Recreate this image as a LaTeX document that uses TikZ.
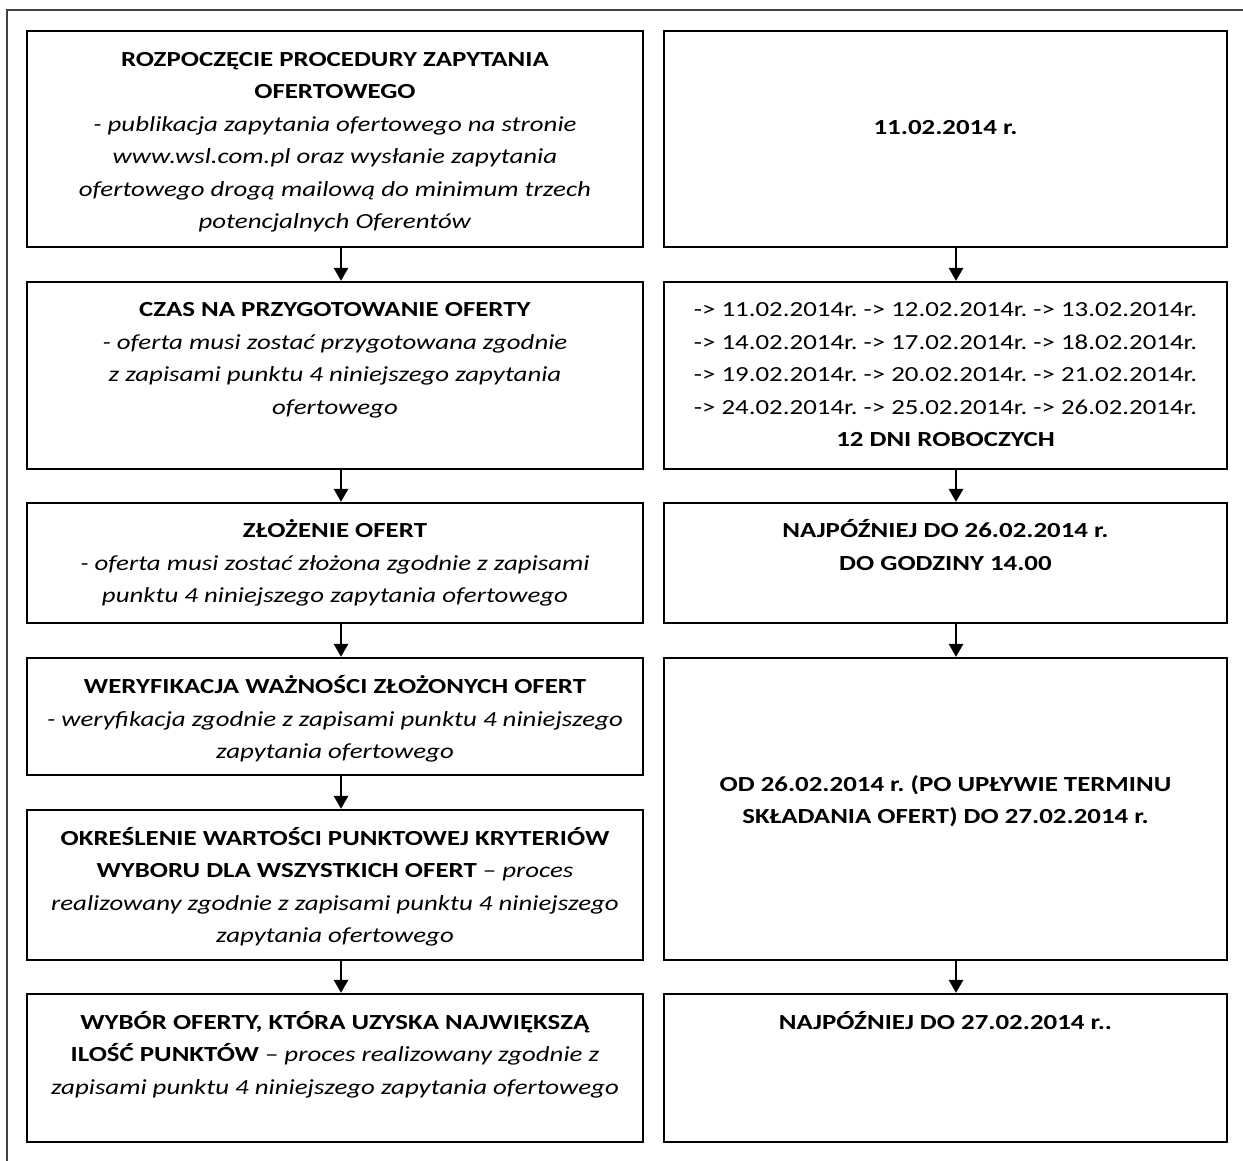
\documentclass[tikz,border=0pt]{standalone}
\usepackage{fontspec}
\setmainfont{Carlito}[FakeStretch=1.25]
\usetikzlibrary{arrows.meta}
\newcommand\firstl{\rule{0pt}{25pt}}
\begin{document}
\frenchspacing
\begin{tikzpicture}[x=1pt,y=-1pt,
  box/.style={draw=black,line width=2.2pt,rectangle,inner sep=0pt},
  txt/.style={anchor=north,inner sep=0pt,align=center,font=\fontsize{21.5}{32.5}\selectfont},
  arr/.style={line width=2.6pt,-{Triangle[width=14pt,length=13pt]}},
  frame/.style={draw=black!75,line width=1.5pt}]
\useasboundingbox (0,0) rectangle (1243,1160);
\draw[frame] (7,1165) -- (7,10) -- (1248,10);
% left boxes
\node[box,minimum width=616pt,minimum height=216pt] (b1) at (335,139) {};
\node[box,minimum width=616pt,minimum height=187pt] (b2) at (335,375.5) {};
\node[box,minimum width=616pt,minimum height=120pt] (b3) at (335,563) {};
\node[box,minimum width=616pt,minimum height=117pt] (b4) at (335,716.5) {};
\node[box,minimum width=616pt,minimum height=150pt] (b5) at (335,885) {};
\node[box,minimum width=616pt,minimum height=148pt] (b6) at (335,1068) {};
% right boxes
\node[box,minimum width=563pt,minimum height=216pt] (r1) at (945.5,139) {};
\node[box,minimum width=563pt,minimum height=187pt] (r2) at (945.5,375.5) {};
\node[box,minimum width=563pt,minimum height=120pt] (r3) at (945.5,563) {};
\node[box,minimum width=563pt,minimum height=302pt] (r4) at (945.5,809) {};
\node[box,minimum width=563pt,minimum height=148pt] (r5) at (945.5,1068) {};
% left texts
\node[txt] (t1) at (335,41) {\firstl\textbf{ROZPOCZĘCIE PROCEDURY ZAPYTANIA}\\\textbf{OFERTOWEGO}\\\textit{- publikacja zapytania ofertowego na stronie}\\\textit{www.wsl.com.pl oraz wysłanie zapytania}\\\textit{ofertowego drogą mailową do minimum trzech}\\\textit{potencjalnych Oferentów}};
\node[txt] (t2) at (335,291.5) {\firstl\textbf{CZAS NA PRZYGOTOWANIE OFERTY}\\\textit{- oferta musi zostać przygotowana zgodnie}\\\textit{z zapisami punktu 4 niniejszego zapytania}\\\textit{ofertowego}};
\node[txt] (t3) at (335,512.5) {\firstl\textbf{ZŁOŻENIE OFERT}\\\textit{- oferta musi zostać złożona zgodnie z zapisami}\\\textit{punktu 4 niniejszego zapytania ofertowego}};
\node[txt] (t4) at (335,668.5) {\firstl\textbf{WERYFIKACJA WAŻNOŚCI ZŁOŻONYCH OFERT}\\\textit{- weryfikacja zgodnie z zapisami punktu 4 niniejszego}\\\textit{zapytania ofertowego}};
\node[txt] (t5) at (335,820) {\firstl\textbf{OKREŚLENIE WARTOŚCI PUNKTOWEJ KRYTERIÓW}\\\textbf{WYBORU DLA WSZYSTKICH OFERT} – \textit{proces}\\\textit{realizowany zgodnie z zapisami punktu 4 niniejszego}\\\textit{zapytania ofertowego}};
\node[txt] (t6) at (335,1004) {\firstl\textbf{WYBÓR OFERTY, KTÓRA UZYSKA NAJWIĘKSZĄ}\\\textbf{ILOŚĆ PUNKTÓW} – \textit{proces realizowany zgodnie z}\\\textit{zapisami punktu 4 niniejszego zapytania ofertowego}};
% right texts
\node[txt] (s1) at (945.5,109) {\firstl\textbf{11.02.2014 r.}};
\node[txt] (s2) at (945.5,291.5) {\firstl-> 11.02.2014r. -> 12.02.2014r. -> 13.02.2014r.\\-> 14.02.2014r. -> 17.02.2014r. -> 18.02.2014r.\\-> 19.02.2014r. -> 20.02.2014r. -> 21.02.2014r.\\-> 24.02.2014r. -> 25.02.2014r. -> 26.02.2014r.\\\textbf{12 DNI ROBOCZYCH}};
\node[txt] (s3) at (945.5,512.5) {\firstl\textbf{NAJPÓŹNIEJ DO 26.02.2014 r.}\\\textbf{DO GODZINY 14.00}};
\node[txt] (s4) at (945.5,766) {\firstl\textbf{OD 26.02.2014 r. (PO UPŁYWIE TERMINU}\\\textbf{SKŁADANIA OFERT) DO 27.02.2014 r.}};
\node[txt] (s5) at (945.5,1004) {\firstl\textbf{NAJPÓŹNIEJ DO 27.02.2014 r..}};
% arrows
\coordinate (axL) at (341,0);
\coordinate (axR) at (956,0);
\draw[arr] (b1.south -| axL) -- (b2.north -| axL);
\draw[arr] (b2.south -| axL) -- (b3.north -| axL);
\draw[arr] (b3.south -| axL) -- (b4.north -| axL);
\draw[arr] (b4.south -| axL) -- (b5.north -| axL);
\draw[arr] (b5.south -| axL) -- (b6.north -| axL);
\draw[arr] (r1.south -| axR) -- (r2.north -| axR);
\draw[arr] (r2.south -| axR) -- (r3.north -| axR);
\draw[arr] (r3.south -| axR) -- (r4.north -| axR);
\draw[arr] (r4.south -| axR) -- (r5.north -| axR);
\end{tikzpicture}
\end{document}
